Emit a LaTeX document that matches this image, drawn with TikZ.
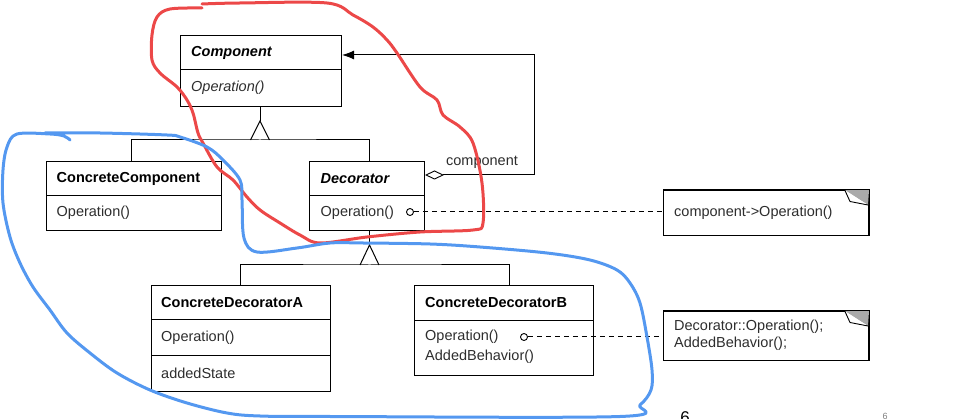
\documentclass[tikz,border=0pt]{standalone}
\usepackage{fontspec}
\setmainfont{Liberation Sans}
\usetikzlibrary{arrows.meta,calc}
\definecolor{ink}{RGB}{45,45,45}
\definecolor{penred}{RGB}{236,72,72}
\definecolor{penblue}{RGB}{84,152,240}
\definecolor{foldgray}{RGB}{170,170,170}
\begin{document}
\begin{tikzpicture}[x=1pt,y=-1pt,
  box/.style={draw=black,line width=1pt,rectangle,anchor=north west,inner sep=0pt},
  wire/.style={draw=black,line width=1pt},
  lbl/.style={anchor=west,inner sep=0pt,text=ink,font=\fontsize{14.5}{17}\selectfont},
  ttl/.style={anchor=west,inner sep=0pt,text=black,font=\fontsize{14.5}{17}\selectfont\bfseries},
  ittl/.style={anchor=west,inner sep=0pt,text=black,font=\fontsize{14.5}{17}\selectfont\bfseries\itshape},
  ilbl/.style={anchor=west,inner sep=0pt,text=ink,font=\fontsize{14.5}{17}\selectfont\itshape},
  endcirc/.style={circle,draw=black,fill=white,line width=0.9pt,minimum size=7pt,inner sep=0pt},
  notedash/.style={draw=black,line width=1pt,dash pattern=on 5pt off 4pt},
  pen/.style={line width=3pt,line cap=round,line join=round}
]
\useasboundingbox (0,0) rectangle (956,419);

% ---------- boxes ----------
\node[box,minimum width=161pt,minimum height=71pt] (comp) at (180,35) {};
\draw[wire] (comp.west |- 0,70) -- (comp.east |- 0,70);
\node[ittl] (compT) at (191,52.5) {Component};
\node[ilbl] (compO) at (191,88) {Operation()};

\node[box,minimum width=175pt,minimum height=69pt] (cc) at (46,161) {};
\draw[wire] (cc.west |- 0,196) -- (cc.east |- 0,196);
\node[ttl] (ccT) at (56.5,178.5) {ConcreteComponent};
\node[lbl] (ccO) at (56.5,213) {Operation()};

\node[box,minimum width=115pt,minimum height=69pt] (dec) at (309,161) {};
\draw[wire] (dec.west |- 0,196) -- (dec.east |- 0,196);
\node[ittl] (decT) at (320.5,178.5) {Decorator};
\node[lbl] (decO) at (320.5,213) {Operation()};

\node[box,minimum width=179pt,minimum height=106pt] (cda) at (151,285) {};
\draw[wire] (cda.west |- 0,320) -- (cda.east |- 0,320);
\draw[wire] (cda.west |- 0,356) -- (cda.east |- 0,356);
\node[ttl] (cdaT) at (161,302.5) {ConcreteDecoratorA};
\node[lbl] (cdaO) at (161,338) {Operation()};
\node[lbl] (cdaS) at (161,373.5) {addedState};

\node[box,minimum width=179pt,minimum height=90pt] (cdb) at (414,285) {};
\draw[wire] (cdb.west |- 0,321) -- (cdb.east |- 0,321);
\node[ttl] (cdbT) at (425,303) {ConcreteDecoratorB};
\node[lbl] (cdbO) at (425,337) {Operation()};
\node[lbl] (cdbA) at (425,357) {AddedBehavior()};

% ---------- notes ----------
\node[box,minimum width=205pt,minimum height=45pt] (n1) at (663,190) {};
\fill[foldgray] (845,190) -- (n1.north east) -- (868,205) -- cycle;
\draw[line width=0.9pt,fill=white,line join=round] (845,190.5) -- (850,201.5) -- (868,205);
\draw[wire] (n1.north west) rectangle (n1.south east);
\node[lbl] (n1t) at (674,212.5) {component->Operation()};

\node[box,minimum width=205pt,minimum height=49pt] (n2) at (663,311) {};
\fill[foldgray] (845,311) -- (n2.north east) -- (868,326) -- cycle;
\draw[line width=0.9pt,fill=white,line join=round] (845,311.5) -- (850,322.5) -- (868,326);
\draw[wire] (n2.north west) rectangle (n2.south east);
\node[lbl,align=left,font=\fontsize{14.5}{16.5}\selectfont] (n2t) at (674,335) {Decorator::Operation();\\AddedBehavior();};

% ---------- generalization: Component ----------
\coordinate (t1) at (260,121);
\coordinate (j1) at (260,140);
\draw[wire] (comp.south -| t1) -- (t1);
\draw[wire,line join=miter] ($(j1)+(-9.5,0)$) -- (t1) -- ($(j1)+(9.5,0)$);
\draw[wire] (cc.north -| 131,0) |- (j1) -| (dec.north -| 369.5,0);

% ---------- generalization: Decorator ----------
\coordinate (t2) at (369.5,245);
\coordinate (j2) at (369.5,265);
\draw[wire] (dec.south -| t2) -- (t2);
\draw[wire,line join=miter] ($(j2)+(-9.5,0)$) -- (t2) -- ($(j2)+(9.5,0)$);
\draw[wire] (cda.north -| 240,0) |- (j2) -| (cdb.north -| 509,0);

% ---------- aggregation ----------
\coordinate (agg) at (dec.east |- 0,175);
\coordinate (c1) at (534,175);
\coordinate (c2) at (534,55);
\draw[wire,{Diamond[open,length=19pt,width=9pt,line width=0.9pt]}-{Latex[length=12pt,width=9pt]}]
  (agg) -- (c1) -- (c2) -- (comp.east |- c2);
\node[lbl,anchor=center] (aggl) at (482,162) {component};

% ---------- note links ----------
\node[endcirc] (e1) at (410,212) {};
\draw[notedash] (e1.east) -- (n1.west |- e1);
\node[endcirc] (e2) at (524,337) {};
\draw[notedash] (e2.east) -- (n2.west |- e2);

% ---------- page numbers ----------
\node[anchor=north,inner sep=0pt,font=\fontsize{17}{20}\selectfont] (p1) at (685,411) {6};
\node[anchor=north,inner sep=0pt,text=gray,font=\fontsize{9}{11}\selectfont] (p2) at (885,413) {6};

% ---------- hand-drawn loops ----------
\draw[penred,pen] plot[smooth,tension=0.55] coordinates {(202,8) (170,9) (157,17) (152,35) (152,60) (160,73) (177,87) (187,100) (193,113) (198,133) (203,143) (217,167) (233,180) (247,197) (260,210) (280,223) (300,235) (320,243) (367,237) (420,232) (473,230) (483,223) (482,183) (473,143) (460,127) (443,115) (437,100) (420,87) (397,53) (387,40) (373,27) (353,15) (327,3) (240,3) (202,4)};

\draw[penblue,pen] plot[smooth,tension=0.55] coordinates {(70,140) (64,136) (50,134) (17,134) (7,147) (3,170) (3,203) (10,237) (20,263) (33,287) (50,310) (67,333) (90,353) (117,373) (150,390) (187,403) (227,413) (260,416) (330,416.5) (620,416.5) (640,405) (651,390) (652,370) (647,337) (640,303) (630,283) (617,270) (590,260) (547,253) (480,247) (430,244) (363,243) (330,243) (297,248) (257,252) (244,238) (242,200) (240,180) (223,160) (207,147) (180,137) (167,135) (100,133) (45,133)};
\end{tikzpicture}
\end{document}
